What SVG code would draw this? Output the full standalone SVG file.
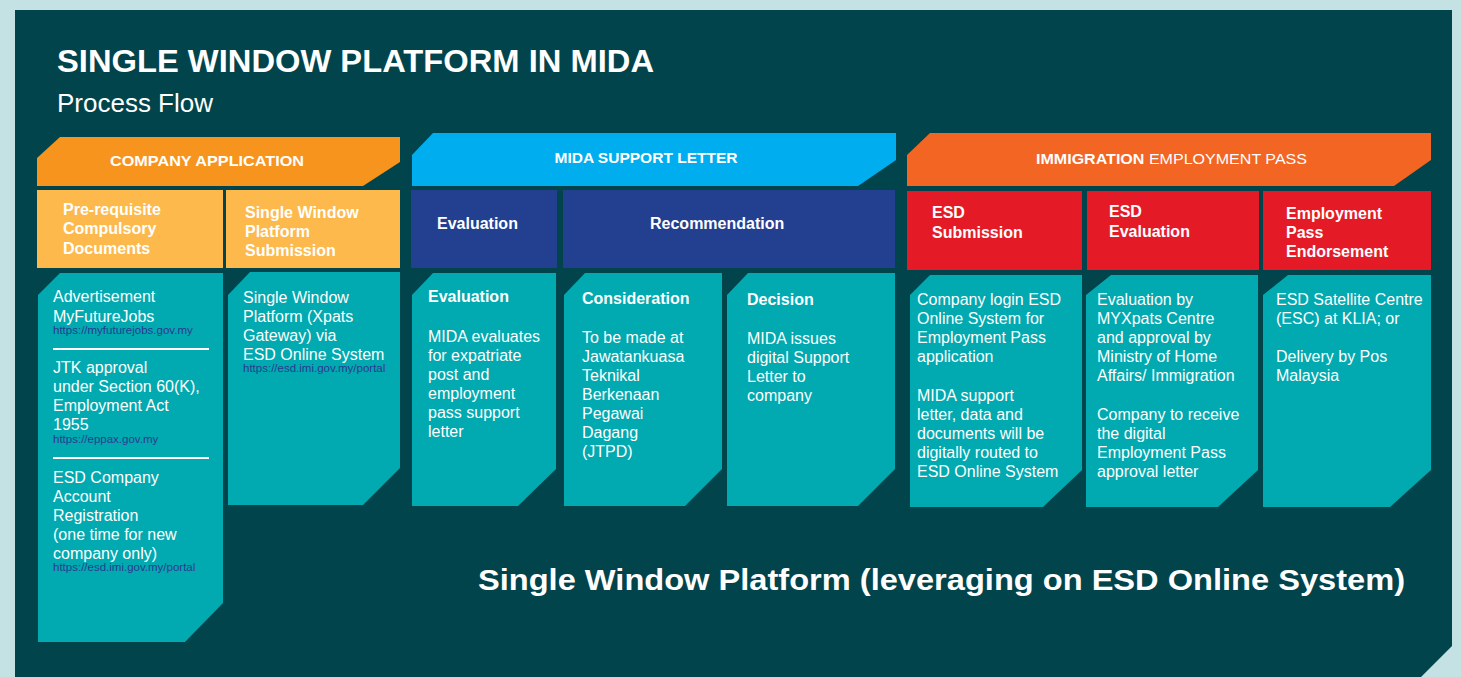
<svg xmlns="http://www.w3.org/2000/svg" width="1461" height="677" viewBox="0 0 1461 677">
<style>
text{font-family:"Liberation Sans",Arial,sans-serif;fill:#fff}
.hd{font-weight:bold;font-size:15px}
.sh{font-weight:bold;font-size:16px}
.tx{font-size:16px}
.url{font-size:11.5px;fill:#2b3a8f}
.teal{fill:#01a9b0}
.yel{fill:#fdb94b}
.navy{fill:#233f8f}
.red{fill:#e41b27}
</style>
<rect x="0" y="0" width="1461" height="677" fill="#c4e1e3"/>
<polygon points="15,10 1452,10 1452,646 1421,677 15,677" fill="#01444c"/>
<g id="title">
<text x="57" y="72" font-size="32" font-weight="bold" textLength="597" lengthAdjust="spacingAndGlyphs">SINGLE WINDOW PLATFORM IN MIDA</text>
<text x="57" y="112" font-size="25" textLength="156" lengthAdjust="spacingAndGlyphs">Process Flow</text>
</g>
<g id="connectors"></g>
<g id="company-application">
<polygon points="60,137 400,137 400,162 363,186 37,186 37,158" fill="#f7941d"/>
<text class="hd" x="207" y="166" text-anchor="middle" textLength="194" lengthAdjust="spacingAndGlyphs">COMPANY APPLICATION</text>
</g>
<g id="prerequisite">
<rect class="yel" x="37" y="190" width="186" height="78"/>
<text class="sh" x="63" y="215">Pre-requisite</text>
<text class="sh" x="63" y="234">Compulsory</text>
<text class="sh" x="63" y="254">Documents</text>
</g>
<g id="sw-submission">
<rect class="yel" x="226" y="190" width="174" height="78"/>
<text class="sh" x="245" y="218">Single Window</text>
<text class="sh" x="245" y="237">Platform</text>
<text class="sh" x="245" y="256">Submission</text>
</g>
<g id="prereq-content">
<polygon class="teal" points="60,273 223,273 223,603 185,642 38,642 38,295"/>
<text class="tx" x="53" y="302">Advertisement</text>
<text class="tx" x="53" y="322">MyFutureJobs</text>
<text class="url" x="53" y="334">https://myfuturejobs.gov.my</text>
<line x1="53" y1="349" x2="209" y2="349" stroke="#fff" stroke-width="2"/>
<text class="tx" x="53" y="373">JTK approval</text>
<text class="tx" x="53" y="392">under Section 60(K),</text>
<text class="tx" x="53" y="411">Employment Act</text>
<text class="tx" x="53" y="430">1955</text>
<text class="url" x="53" y="443">https://eppax.gov.my</text>
<line x1="53" y1="458" x2="209" y2="458" stroke="#fff" stroke-width="2"/>
<text class="tx" x="53" y="483">ESD Company</text>
<text class="tx" x="53" y="502">Account</text>
<text class="tx" x="53" y="521">Registration</text>
<text class="tx" x="53" y="540">(one time for new</text>
<text class="tx" x="53" y="559">company only)</text>
<text class="url" x="53" y="571">https://esd.imi.gov.my/portal</text>
</g>
<g id="submission-content">
<polygon class="teal" points="250,272 400,272 400,468 363,505 228,505 228,295"/>
<text class="tx" x="243" y="303">Single Window</text>
<text class="tx" x="243" y="322">Platform (Xpats</text>
<text class="tx" x="243" y="341">Gateway) via</text>
<text class="tx" x="243" y="360">ESD Online System</text>
<text class="url" x="243" y="372">https://esd.imi.gov.my/portal</text>
</g>
<g id="mida-support-letter">
<polygon points="433,133 896,133 896,160 858,186 412,186 412,155" fill="#00aeef"/>
<text class="hd" x="646" y="163" text-anchor="middle" textLength="183" lengthAdjust="spacingAndGlyphs">MIDA SUPPORT LETTER</text>
</g>
<g id="evaluation-head">
<rect class="navy" x="411" y="190" width="146" height="78"/>
<text class="sh" x="437" y="229">Evaluation</text>
</g>
<g id="recommendation-head">
<rect class="navy" x="563" y="190" width="332" height="78"/>
<text class="sh" x="650" y="229">Recommendation</text>
</g>
<g id="evaluation-content">
<polygon class="teal" points="433,273 556,273 556,469 518,506 412,506 412,295"/>
<text class="sh" x="428" y="302">Evaluation</text>
<text class="tx" x="428" y="342">MIDA evaluates</text>
<text class="tx" x="428" y="361">for expatriate</text>
<text class="tx" x="428" y="380">post and</text>
<text class="tx" x="428" y="399">employment</text>
<text class="tx" x="428" y="418">pass support</text>
<text class="tx" x="428" y="437">letter</text>
</g>
<g id="consideration-content">
<polygon class="teal" points="585,273 722,273 722,469 685,506 564,506 564,295"/>
<text class="sh" x="582" y="304">Consideration</text>
<text class="tx" x="582" y="343">To be made at</text>
<text class="tx" x="582" y="362">Jawatankuasa</text>
<text class="tx" x="582" y="381">Teknikal</text>
<text class="tx" x="582" y="400">Berkenaan</text>
<text class="tx" x="582" y="419">Pegawai</text>
<text class="tx" x="582" y="438">Dagang</text>
<text class="tx" x="582" y="457">(JTPD)</text>
</g>
<g id="decision-content">
<polygon class="teal" points="748,273 895,273 895,469 858,506 727,506 727,295"/>
<text class="sh" x="747" y="305">Decision</text>
<text class="tx" x="747" y="344">MIDA issues</text>
<text class="tx" x="747" y="363">digital Support</text>
<text class="tx" x="747" y="382">Letter to</text>
<text class="tx" x="747" y="401">company</text>
</g>
<g id="immigration-employment-pass">
<polygon points="930,133 1431,133 1431,160 1394,186 907,186 907,155" fill="#f26522"/>
<text class="hd" x="1036" y="164" textLength="271" lengthAdjust="spacingAndGlyphs">IMMIGRATION<tspan font-weight="normal"> EMPLOYMENT PASS</tspan></text>
</g>
<g id="esd-submission-head">
<rect class="red" x="907" y="191" width="175" height="79"/>
<text class="sh" x="932" y="218">ESD</text>
<text class="sh" x="932" y="238">Submission</text>
</g>
<g id="esd-evaluation-head">
<rect class="red" x="1087" y="191" width="172" height="79"/>
<text class="sh" x="1109" y="217">ESD</text>
<text class="sh" x="1109" y="237">Evaluation</text>
</g>
<g id="endorsement-head">
<rect class="red" x="1263" y="191" width="168" height="79"/>
<text class="sh" x="1286" y="219">Employment</text>
<text class="sh" x="1286" y="238">Pass</text>
<text class="sh" x="1286" y="257">Endorsement</text>
</g>
<g id="esd-submission-content">
<polygon class="teal" points="930,275 1082,275 1082,470 1043,507 910,507 910,295"/>
<text class="tx" x="917" y="305">Company login ESD</text>
<text class="tx" x="917" y="324">Online System for</text>
<text class="tx" x="917" y="343">Employment Pass</text>
<text class="tx" x="917" y="362">application</text>
<text class="tx" x="917" y="401">MIDA support</text>
<text class="tx" x="917" y="420">letter, data and</text>
<text class="tx" x="917" y="439">documents will be</text>
<text class="tx" x="917" y="458">digitally routed to</text>
<text class="tx" x="917" y="477">ESD Online System</text>
</g>
<g id="esd-evaluation-content">
<polygon class="teal" points="1111,275 1258,275 1258,470 1218,507 1086,507 1086,295"/>
<text class="tx" x="1097" y="305">Evaluation by</text>
<text class="tx" x="1097" y="324">MYXpats Centre</text>
<text class="tx" x="1097" y="343">and approval by</text>
<text class="tx" x="1097" y="362">Ministry of Home</text>
<text class="tx" x="1097" y="381">Affairs/ Immigration</text>
<text class="tx" x="1097" y="420">Company to receive</text>
<text class="tx" x="1097" y="439">the digital</text>
<text class="tx" x="1097" y="458">Employment Pass</text>
<text class="tx" x="1097" y="477">approval letter</text>
</g>
<g id="endorsement-content">
<polygon class="teal" points="1288,275 1431,275 1431,470 1390,507 1263,507 1263,295"/>
<text class="tx" x="1276" y="305">ESD Satellite Centre</text>
<text class="tx" x="1276" y="324">(ESC) at KLIA; or</text>
<text class="tx" x="1276" y="362">Delivery by Pos</text>
<text class="tx" x="1276" y="381">Malaysia</text>
</g>
<g id="footer">
<text x="478" y="590" font-size="29" font-weight="bold" textLength="927" lengthAdjust="spacingAndGlyphs">Single Window Platform (leveraging on ESD Online System)</text>
</g>
</svg>
